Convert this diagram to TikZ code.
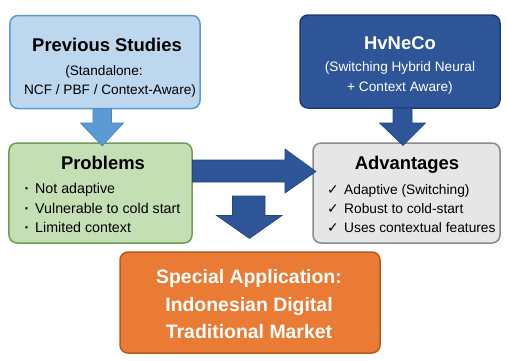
\documentclass[tikz,border=0pt]{standalone}
\usepackage{fontspec}
\setmainfont{Liberation Sans}
\newfontfamily\dejavu{DejaVu Sans}
\definecolor{lbfill}{HTML}{BDD7EE}
\definecolor{lbdraw}{HTML}{5B9BD5}
\definecolor{dbfill}{HTML}{2E5597}
\definecolor{dbdraw}{HTML}{1F3C73}
\definecolor{grfill}{HTML}{C5DFB4}
\definecolor{grdraw}{HTML}{6E9E55}
\definecolor{gyfill}{HTML}{E6E6E6}
\definecolor{gydraw}{HTML}{8A8A8A}
\definecolor{orfill}{HTML}{E97B35}
\definecolor{ordraw}{HTML}{B85A1E}
\definecolor{larrow}{HTML}{5B9BD5}
\definecolor{larrowd}{HTML}{4A84BE}
\definecolor{darrowd}{HTML}{23467F}
\begin{document}
\begin{tikzpicture}[x=1bp,y=-1bp,
  box/.style={rounded corners=8bp, line width=1.5bp, inner sep=0pt},
  ttl/.style={anchor=base, inner sep=0pt, font=\fontsize{18.5}{20}\selectfont\bfseries},
  sub/.style={anchor=base, inner sep=0pt, font=\fontsize{13.7}{15}\selectfont},
  itm/.style={anchor=base west, inner sep=0pt, font=\fontsize{14.3}{16}\selectfont},
  aitm/.style={anchor=base west, inner sep=0pt, font=\fontsize{13.8}{16}\selectfont},
  chk/.style={anchor=base west, inner sep=0pt, font=\dejavu\bfseries\fontsize{14}{16}\selectfont},
  big/.style={anchor=base, inner sep=0pt, text=white, font=\fontsize{19.5}{22}\selectfont\bfseries},
  lblk/.style={fill=larrow, draw=larrowd, line width=0.6bp, line join=miter},
  dblk/.style={fill=dbfill, draw=darrowd, line width=0.6bp, line join=miter}]
\useasboundingbox[fill=white] (0,0) rectangle (507,360);

% boxes
\node[box, fill=lbfill, draw=lbdraw, minimum width=190bp, minimum height=93bp] (prev) at (105,62) {};
\node[box, fill=dbfill, draw=dbdraw, minimum width=200bp, minimum height=93bp] (hv) at (400,61.5) {};
\node[box, fill=grfill, draw=grdraw, minimum width=183bp, minimum height=100bp] (prob) at (100.5,193) {};
\node[box, fill=gyfill, draw=gydraw, minimum width=187bp, minimum height=100bp] (adv) at (406.5,193) {};
\node[box, fill=orfill, draw=ordraw, minimum width=260bp, minimum height=101bp] (app) at (250,302.5) {};

% block arrows
\draw[lblk] (93,108.8) -- (111.5,108.8) -- (111.5,123) -- (123.5,123) -- (102.2,146) -- (80.5,123) -- (93,123) -- cycle;
\draw[dblk] (393,108.3) -- (412,108.3) -- (412,123) -- (425.5,123) -- (403,145.5) -- (379.5,123) -- (393,123) -- cycle;
\draw[dblk] (192.5,160) -- (285,160) -- (285,149) -- (316,171.5) -- (285,193) -- (285,182) -- (192.5,182) -- cycle;
\draw[dblk] (232.5,196) -- (265,196) -- (265,215.5) -- (282,215.5) -- (249.5,238.5) -- (216.5,215.5) -- (232.5,215.5) -- cycle;

% Previous Studies
\node[ttl] (prevt) at (107,51.7) {Previous Studies};
\node[sub] (prev1) at (104,75) {(Standalone:};
\node[sub] (prev2) at (110,94) {NCF / PBF / Context-Aware)};

% HvNeCo
\node[ttl, text=white] (hvt) at (400,49.5) {HvNeCo};
\node[sub, text=white] (hv1) at (400,71) {(Switching Hybrid Neural};
\node[sub, text=white] (hv2) at (400,91) {+ Context Aware)};

% Problems
\node[ttl] (probt) at (103,169.5) {Problems};
\node[itm] (pb1d) at (24.5,193) {\textbf{·}};
\node[itm] (pb1) at (35,193) {Not adaptive};
\node[itm] (pb2d) at (24.5,213) {\textbf{·}};
\node[itm] (pb2) at (35,213) {Vulnerable to cold start};
\node[itm] (pb3d) at (24.5,232) {\textbf{·}};
\node[itm] (pb3) at (35,232) {Limited context};

% Advantages
\node[ttl] (advt) at (407,169.5) {Advantages};
\node[chk] (ad1c) at (327,194) {✓};
\node[aitm] (ad1) at (344,194) {Adaptive (Switching)};
\node[chk] (ad2c) at (327,213) {✓};
\node[aitm] (ad2) at (344,213) {Robust to cold-start};
\node[chk] (ad3c) at (327,232) {✓};
\node[aitm] (ad3) at (344,232) {Uses contextual features};

% Application
\node[big] (app1) at (249,283.5) {Special Application:};
\node[big] (app2) at (249,311.5) {Indonesian Digital};
\node[big] (app3) at (249,338) {Traditional Market};
\end{tikzpicture}
\end{document}
